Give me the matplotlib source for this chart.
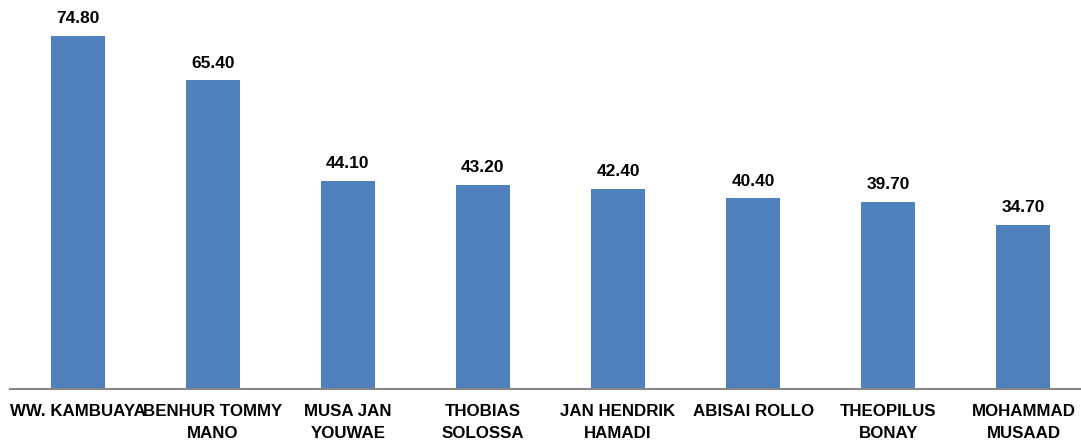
import matplotlib
matplotlib.use("Agg")
import matplotlib.pyplot as plt

names = ["WW. KAMBUAYA", "BENHUR TOMMY\nMANO", "MUSA JAN\nYOUWAE", "THOBIAS\nSOLOSSA",
         "JAN HENDRIK\nHAMADI", "ABISAI ROLLO", "THEOPILUS\nBONAY", "MOHAMMAD\nMUSAAD"]
values = [74.80, 65.40, 44.10, 43.20, 42.40, 40.40, 39.70, 34.70]

plt.rcParams['font.family'] = ['Liberation Sans', 'DejaVu Sans']

fig = plt.figure(figsize=(10.81, 4.44), dpi=100)
ax = fig.add_axes([10/1081, 55/444, 1081/1081, 389/444])
x = list(range(len(names)))
bars = ax.bar(x, values, width=0.4, color="#4F81BD")
ax.bar_label(bars, labels=[f"{v:.2f}" for v in values], padding=7,
             fontsize=12.5, fontweight="bold", color="black")
ax.set_xlim(-0.5, 7.5)
ax.set_ylim(0, 82.4)
ax.set_xticks(x)
ax.set_xticklabels(names, fontsize=12.2, fontweight="bold", color="black",
                   linespacing=1.55)
ax.tick_params(axis="x", length=0, pad=11)
ax.set_yticks([])
for s in ["top", "left", "right"]:
    ax.spines[s].set_visible(False)
ax.spines["bottom"].set_color("#868686")
ax.spines["bottom"].set_linewidth(1.5)
fig.savefig("out.png", dpi=100)
